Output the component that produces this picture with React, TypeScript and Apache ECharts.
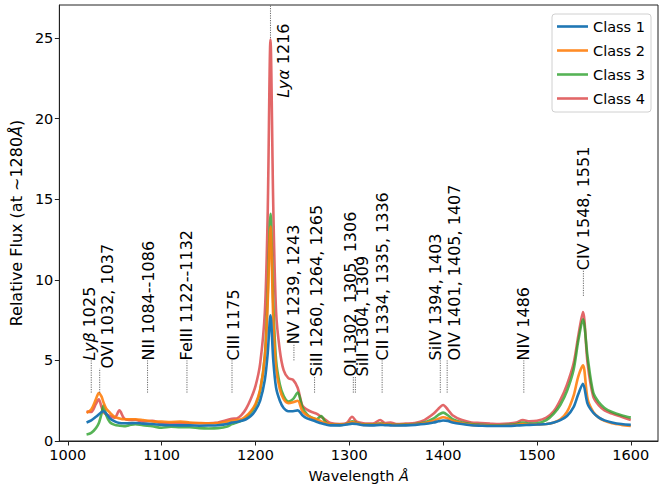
import React, { useEffect, useRef } from "react";
import * as echarts from "echarts";

const wavelengths = [
  1020, 1025, 1030, 1033, 1036, 1038, 1041, 1045, 1050, 1055,
  1060, 1065, 1072, 1080, 1090, 1100, 1110, 1120, 1130, 1140,
  1150, 1160, 1170, 1175, 1180, 1185, 1190, 1195, 1200, 1205,
  1210, 1213, 1216, 1219, 1222, 1226, 1230, 1235, 1240, 1245,
  1250, 1255, 1260, 1265, 1270, 1275, 1280, 1290, 1297, 1303,
  1308, 1315, 1325, 1333, 1338, 1344, 1350, 1360, 1370, 1380,
  1390, 1395, 1400, 1405, 1410, 1420, 1430, 1440, 1450, 1460,
  1470, 1478, 1485, 1492, 1500, 1510, 1518, 1525, 1532, 1539,
  1544, 1549, 1554, 1560, 1566, 1572, 1580, 1590, 1600,
];

const class1 = [
  1.15, 1.28, 1.5, 1.65, 1.8, 1.85, 1.7, 1.4, 1.22, 1.12,
  1.1, 1.1, 1.12, 1.08, 1.05, 1.0, 0.98, 0.97, 0.97, 0.95,
  0.96, 0.98, 1.05, 1.15, 1.18, 1.25, 1.35, 1.55, 1.9, 2.5,
  3.8, 5.4, 7.8, 5.0, 3.3, 2.5, 2.05, 1.85, 1.85, 1.9,
  1.6, 1.4, 1.3, 1.2, 1.1, 1.02, 0.97, 0.97, 1.02, 1.08,
  1.05, 0.98, 0.97, 1.0, 0.98, 0.97, 0.96, 0.97, 1.0, 1.05,
  1.15, 1.22, 1.27, 1.25, 1.15, 1.05, 0.98, 0.95, 0.93, 0.93,
  0.94, 0.96, 0.98, 1.0, 1.02, 1.05, 1.15, 1.3, 1.55, 2.1,
  2.9, 3.55, 2.3, 1.75, 1.45, 1.28, 1.15, 1.05, 1.0,
];

const class2 = [
  1.75, 1.95, 2.6, 2.97, 2.75, 2.4, 2.0, 1.75, 1.5, 1.4,
  1.35, 1.35, 1.35, 1.3, 1.22, 1.2, 1.18, 1.2, 1.15, 1.12,
  1.1, 1.12, 1.2, 1.25, 1.3, 1.35, 1.55, 1.85, 2.3, 3.2,
  5.2, 8.5, 13.3, 7.5, 4.5, 3.2, 2.6, 2.35, 2.4, 2.5,
  1.85, 1.6, 1.45, 1.35, 1.22, 1.1, 1.02, 1.0, 1.05, 1.18,
  1.1, 1.0, 1.0, 1.08, 1.02, 1.0, 0.99, 1.0, 1.03, 1.1,
  1.25, 1.38, 1.47, 1.4, 1.25, 1.1, 1.0, 0.97, 0.95, 0.95,
  0.96, 1.0, 1.05, 1.02, 1.02, 1.05, 1.15, 1.35, 1.8, 2.8,
  4.0, 4.7, 2.6, 1.8, 1.45, 1.25, 1.1, 1.0, 0.93,
];

const class3 = [
  0.4, 0.5, 0.8, 1.1, 1.7, 2.2, 1.6, 1.15, 1.0, 0.95,
  0.92, 0.97, 1.05, 0.98, 0.92, 0.82, 0.88, 0.85, 0.85, 0.8,
  0.78, 0.8, 0.9, 1.05, 1.15, 1.25, 1.45, 1.75, 2.2, 3.1,
  5.3, 9.0, 14.1, 8.5, 5.0, 3.5, 2.8, 2.45, 2.6, 3.0,
  2.1, 1.65, 1.45, 1.35, 1.55, 1.15, 1.02, 1.0, 1.05, 1.22,
  1.12, 1.02, 1.02, 1.1, 1.04, 1.02, 1.0, 1.02, 1.05, 1.15,
  1.4, 1.62, 1.76, 1.6, 1.35, 1.15, 1.05, 1.0, 0.98, 0.98,
  1.0, 1.05, 1.15, 1.08, 1.1, 1.3, 1.7, 2.25, 3.1, 4.4,
  6.2, 7.55, 5.2, 3.0, 2.4, 2.05, 1.8, 1.6, 1.45,
];

const class4 = [
  1.82, 1.8, 2.3, 2.58, 2.1, 1.8, 1.65, 1.55, 1.45, 1.9,
  1.4, 1.3, 1.32, 1.2, 1.25, 1.1, 1.1, 1.12, 1.1, 1.1,
  1.1, 1.15, 1.3, 1.38, 1.4, 1.6, 2.0, 2.6, 3.4, 4.8,
  8.0, 14.0, 24.9, 14.5, 8.0, 5.6, 4.4, 3.9, 3.8, 3.3,
  2.2, 1.95, 1.8, 1.7, 1.5, 1.3, 1.12, 1.05, 1.1, 1.5,
  1.2, 1.1, 1.08, 1.3, 1.12, 1.15, 1.05, 1.08, 1.12, 1.3,
  1.7, 2.0, 2.23, 1.95, 1.6, 1.3, 1.15, 1.12, 1.08, 1.05,
  1.08, 1.15, 1.3, 1.22, 1.25, 1.45, 1.85, 2.55, 3.5, 4.8,
  6.5, 8.0, 4.8, 2.75, 2.2, 1.9, 1.7, 1.5, 1.3,
];

const seriesNames = ["Class 1", "Class 2", "Class 3", "Class 4"];
const seriesValues = [class1, class2, class3, class4];

const xTicks = [1000, 1100, 1200, 1300, 1400, 1500, 1600];
const yTicks = [0, 5, 10, 15, 20, 25];

// emission-line annotations
const lineLabels = [
  "{i|Lyβ} 1025",
  "OVI 1032, 1037",
  "NII 1084--1086",
  "FeIII 1122--1132",
  "CIII 1175",
  "{i|Lyα} 1216",
  "NV 1239, 1243",
  "SiII 1260, 1264, 1265",
  "OI 1302, 1305, 1306",
  "SiII 1304, 1309",
  "CII 1334, 1335, 1336",
  "SiIV 1394, 1403",
  "OIV 1401, 1405, 1407",
  "NIV 1486",
  "CIV 1548, 1551",
];
const lineWaves = [1025, 1034, 1085, 1127, 1175, 1216, 1241, 1263, 1304.3, 1306.5, 1335, 1397, 1404.3, 1486, 1549.5];
const lineLow = [3, 3, 3, 3, 3, 25, 5, 3, 3, 3, 3, 3, 3, 3, 9];
const lineHigh = [5, 4.5, 5, 5, 5, 27.05, 6, 4, 4, 4, 5, 5, 5, 5, 10.6];
const labelY = [5, 4.5, 5, 5, 5, 21.3, 6, 4, 4, 4, 5, 5, 5, 5, 10.6];
const labelDx = [-2, 8, 1, 0, 1.5, 13, 0, 1.5, -3, 7, 0.5, -5, 7, 0, 0];

const colors = [
  "rgba(31,119,180,1)",
  "rgba(255,127,14,0.9)",
  "rgba(44,160,44,0.8)",
  "rgba(214,39,40,0.7)",
];

const FONT = "DejaVu Sans";
const FS = 14.5;
const FS_ANN = 16;
const FS_YNAME = 16;

export default function App() {
  const ref = useRef<HTMLDivElement>(null);

  useEffect(() => {
    document.body.style.margin = "0";
    const chart = echarts.init(ref.current!, null, { renderer: "svg" });

    const lineSeries = seriesNames.map((name, s) => ({
      name,
      type: "line",
      data: wavelengths.map((w, i) => [w, seriesValues[s][i]]),
      showSymbol: false,
      symbol: "none",
      smooth: 0.3,
      z: 10 - s,
      lineStyle: { width: 2.6, color: colors[s] },
      itemStyle: { color: colors[s] },
    }));

    const annotSeries = {
      type: "custom",
      silent: true,
      z: 20,
      clip: false,
      data: lineWaves.map((w, i) => [w, lineLow[i], lineHigh[i], labelY[i], i]),
      renderItem: (params: any, api: any) => {
        const i = params.dataIndex;
        const p1 = api.coord([lineWaves[i], lineLow[i]]);
        const p2 = api.coord([lineWaves[i], lineHigh[i]]);
        const pl = api.coord([lineWaves[i], labelY[i]]);
        return {
          type: "group",
          children: [
            {
              type: "line",
              shape: { x1: p1[0], y1: p1[1], x2: p2[0], y2: p2[1] },
              style: { stroke: "#444", lineWidth: 0.8, lineDash: [1.2, 1.2] },
            },
            {
              type: "text",
              x: pl[0] + labelDx[i],
              y: pl[1],
              rotation: Math.PI / 2,
              style: {
                text: lineLabels[i],
                fontSize: FS_ANN,
                fontFamily: FONT,
                fill: "#000",
                align: "left",
                verticalAlign: "middle",
                rich: {
                  i: { fontStyle: "italic", fontSize: FS_ANN, fontFamily: FONT, fill: "#000" },
                },
              },
            },
          ],
        };
      },
    };

    chart.setOption({
      animation: false,
      backgroundColor: "#fff",
      textStyle: { fontFamily: FONT },
      grid: {
        left: 48,
        right: 6,
        top: 5,
        bottom: 50,
        show: true,
        borderColor: "#222",
        borderWidth: 1,
        backgroundColor: "transparent",
      },
      legend: {
        data: seriesNames,
        orient: "vertical",
        right: 13,
        top: 14,
        icon: "rect",
        itemWidth: 31,
        itemHeight: 2.6,
        itemGap: 9,
        itemStyle: { borderWidth: 0 },
        padding: [5, 6, 6, 5],
        borderColor: "#d0d0d0",
        borderWidth: 1,
        borderRadius: 3,
        backgroundColor: "rgba(255,255,255,0.8)",
        textStyle: { fontSize: FS, fontFamily: FONT, color: "#000", lineHeight: 15 },
      },
      xAxis: {
        type: "value",
        min: 991,
        max: 1629,
        name: "Wavelength {i|Å}",
        nameLocation: "middle",
        nameGap: 27,
        nameTextStyle: {
          fontSize: FS,
          fontFamily: FONT,
          color: "#000",
          rich: { i: { fontStyle: "italic", fontSize: FS, fontFamily: FONT, color: "#000" } },
        },
        axisLine: { show: true, lineStyle: { color: "#222", width: 1 } },
        axisTick: { show: true, length: 4.5, customValues: xTicks, lineStyle: { color: "#222" } },
        axisLabel: {
          customValues: xTicks,
          formatter: (v: number) => String(v),
          fontSize: FS,
          fontFamily: FONT,
          color: "#000",
          margin: 6,
        },
        splitLine: { show: false },
      },
      yAxis: {
        type: "value",
        min: 0,
        max: 27.05,
        name: "Relative Flux (at ~1280{i|Å})",
        nameLocation: "middle",
        nameGap: 30,
        nameTextStyle: {
          fontSize: FS_YNAME,
          fontFamily: FONT,
          color: "#000",
          rich: { i: { fontStyle: "italic", fontSize: FS_YNAME, fontFamily: FONT, color: "#000" } },
        },
        axisLine: { show: true, lineStyle: { color: "#222", width: 1 } },
        axisTick: { show: true, length: 4.5, customValues: yTicks, lineStyle: { color: "#222" } },
        axisLabel: {
          customValues: yTicks,
          formatter: (v: number) => String(v),
          fontSize: FS,
          fontFamily: FONT,
          color: "#000",
          margin: 6,
        },
        splitLine: { show: false },
      },
      series: [...lineSeries, annotSeries],
    });

    return () => chart.dispose();
  }, []);

  return <div ref={ref} style={{ width: 664, height: 491 }} />;
}
